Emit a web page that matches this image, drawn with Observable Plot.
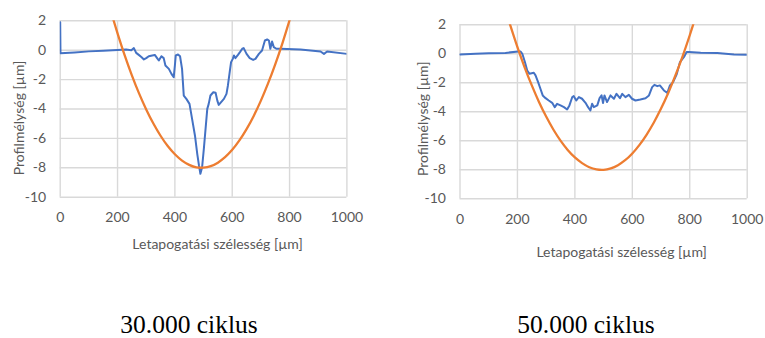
<!DOCTYPE html>
<html><head><meta charset="utf-8">
<script src="https://cdn.jsdelivr.net/npm/d3@7"></script>
<script src="https://cdn.jsdelivr.net/npm/@observablehq/plot@0.6"></script>
<style>
body{margin:0;background:#fff;}
#wrap{position:relative;width:765px;height:338px;overflow:hidden;background:#fff;}
.panel{position:absolute;top:0;}
.cap{position:absolute;top:312px;height:25px;line-height:25px;font-family:"Liberation Serif","Times New Roman",serif;font-size:25.5px;color:#000;transform:translateX(-50%);white-space:nowrap;}
</style></head><body>
<div id="wrap">
  <div id="p1" class="panel" style="left:0px"></div>
  <div id="p2" class="panel" style="left:385px"></div>
  <div id="c1" class="cap" style="left:189px"></div>
  <div id="c2" class="cap" style="left:586px"></div>
</div>
<script>
const xTicks = [0, 200, 400, 600, 800, 1000];
const yTicks = [2, 0, -2, -4, -6, -8, -10];
const xTitle = "Letapogatási szélesség [µm]";
const yTitle = "Profilmélység [µm]";
const captions = ["30.000 ciklus", "50.000 ciklus"];

// measured profile, 30.000 cycles [x µm, depth µm]
const profile30 = [[0,1.9],[1,-0.2],[50,-0.15],[100,-0.08],[150,-0.03],[200,0.02],[230,0.04],[248,0.0],[257,0.14],[265,-0.18],[274,-0.32],[284,-0.48],[292,-0.63],[300,-0.54],[309,-0.41],[321,-0.36],[330,-0.32],[338,-0.54],[344,-0.70],[353,-0.41],[361,-0.54],[367,-1.04],[379,-1.27],[388,-1.61],[396,-1.83],[400,-1.04],[403,-0.36],[411,-0.29],[418,-0.41],[425,-1.27],[431,-3.09],[440,-3.31],[451,-3.65],[460,-4.67],[470,-5.80],[478,-7.05],[484,-7.84],[489,-8.41],[495,-7.96],[501,-6.71],[507,-5.35],[513,-3.99],[518,-3.65],[524,-3.08],[534,-2.86],[542,-2.90],[548,-3.43],[553,-3.72],[559,-3.58],[571,-3.31],[580,-2.97],[585,-2.40],[592,-1.38],[596,-0.81],[602,-0.59],[606,-0.36],[611,-0.54],[620,-0.32],[627,-0.13],[635,0.10],[640,0.14],[650,-0.25],[661,-0.54],[673,-0.66],[681,-0.59],[693,-0.25],[704,-0.02],[714,0.66],[722,0.73],[728,0.66],[733,0.10],[739,0.59],[745,0.21],[754,0.10],[768,0.10],[838,0.05],[908,-0.09],[920,-0.25],[931,-0.09],[1000,-0.25]];
// fitted curve, 30.000 cycles
const fit30 = [[185,2.11],[200,1.15],[225,-0.35],[250,-1.71],[275,-2.94],[300,-4.03],[325,-4.99],[350,-5.82],[375,-6.52],[400,-7.08],[425,-7.51],[450,-7.80],[475,-7.97],[500,-7.99],[525,-7.89],[550,-7.65],[575,-7.28],[600,-6.78],[625,-6.14],[650,-5.37],[675,-4.47],[700,-3.43],[725,-2.26],[750,-0.96],[775,0.47],[800,2.04],[805,2.37]];

// measured profile, 50.000 cycles
const profile50 = [[0,-0.05],[54,0.0],[100,0.04],[158,0.06],[202,0.16],[211,0.16],[217,0.0],[226,-0.57],[234,-1.15],[242,-1.38],[257,-1.31],[263,-1.49],[272,-1.95],[280,-2.41],[288,-2.87],[298,-3.06],[309,-3.22],[321,-3.38],[330,-3.68],[338,-3.45],[350,-3.56],[362,-3.68],[373,-3.84],[381,-3.56],[391,-2.98],[396,-2.92],[405,-3.22],[414,-2.98],[425,-3.10],[437,-3.38],[446,-3.68],[454,-3.91],[460,-3.45],[466,-3.68],[478,-3.56],[486,-3.06],[493,-2.87],[498,-3.40],[503,-2.87],[512,-3.33],[524,-2.87],[536,-3.10],[545,-2.76],[557,-3.06],[565,-2.76],[576,-2.99],[588,-2.83],[599,-3.10],[611,-3.22],[628,-3.15],[646,-3.06],[658,-2.87],[669,-2.30],[677,-2.14],[687,-2.23],[696,-2.18],[710,-2.53],[722,-2.69],[731,-2.18],[742,-1.95],[754,-1.44],[766,-0.57],[780,-0.22],[789,0.12],[797,0.12],[838,0.07],[896,0.05],[954,-0.05],[1000,-0.07]];
// fitted curve, 50.000 cycles
const fit50 = [[170,2.28],[200,0.46],[225,-0.93],[250,-2.18],[275,-3.32],[300,-4.33],[325,-5.22],[350,-5.99],[375,-6.63],[400,-7.15],[425,-7.54],[450,-7.82],[475,-7.97],[500,-8.00],[525,-7.90],[550,-7.68],[575,-7.34],[600,-6.87],[625,-6.28],[650,-5.57],[675,-4.74],[700,-3.78],[725,-2.70],[750,-1.49],[775,-0.17],[800,1.28],[815,2.21]];

const grid = "#d9d9d9", ink = "#595959";
const fmt = d => String(d);

function chart(profile, fit, g) {
  return Plot.plot({
    width: 380, height: 260,
    marginLeft: g.l, marginRight: g.r, marginTop: g.t, marginBottom: g.b,
    style: {fontFamily: "Lato, 'Open Sans', sans-serif", fontSize: "14px", color: ink, background: "white", overflow: "visible"},
    x: {domain: [0, 1000]},
    y: {domain: [-10, 2]},
    marks: [
      Plot.gridX(xTicks, {stroke: grid, strokeOpacity: 1, strokeWidth: 1.4}),
      Plot.gridY(yTicks, {stroke: grid, strokeOpacity: 1, strokeWidth: 1.4}),
      Plot.axisX(xTicks, {tickSize: 0, tickPadding: g.xp, label: null, fill: ink, fontSize: 14, tickFormat: fmt}),
      Plot.axisY(yTicks, {tickSize: 0, tickPadding: 14, label: null, fill: ink, fontSize: 14, tickFormat: fmt}),
      Plot.line(profile, {x: d => d[0], y: d => d[1], stroke: "#4472C4", strokeWidth: 2, clip: true}),
      Plot.line(fit, {x: d => d[0], y: d => d[1], stroke: "#ED7D31", strokeWidth: 2.3, curve: "catmull-rom", clip: true}),
      Plot.text([xTitle], {text: d => d, frameAnchor: "bottom", dy: g.xt, dx: g.xdx, textAnchor: "middle", lineAnchor: "middle", fill: ink, fontSize: 14}),
      Plot.text([yTitle], {text: d => d, frameAnchor: "left", rotate: -90, dx: g.yt, dy: g.ydy, textAnchor: "middle", lineAnchor: "middle", fill: ink, fontSize: 14})
    ]
  });
}

document.getElementById("p1").append(chart(profile30, fit30, {l: 59.7, r: 33.6, t: 20.3, b: 63.3, xp: 15, xt: 47.3, xdx: 14, yt: -40.5, ydy: 9}));
document.getElementById("p2").append(chart(profile50, fit50, {l: 74.5, r: 18.3, t: 24.3, b: 61.7, xp: 15.5, xt: 53.4, xdx: 18, yt: -36, ydy: 7}));
document.getElementById("c1").textContent = captions[0];
document.getElementById("c2").textContent = captions[1];
</script>
</body></html>
